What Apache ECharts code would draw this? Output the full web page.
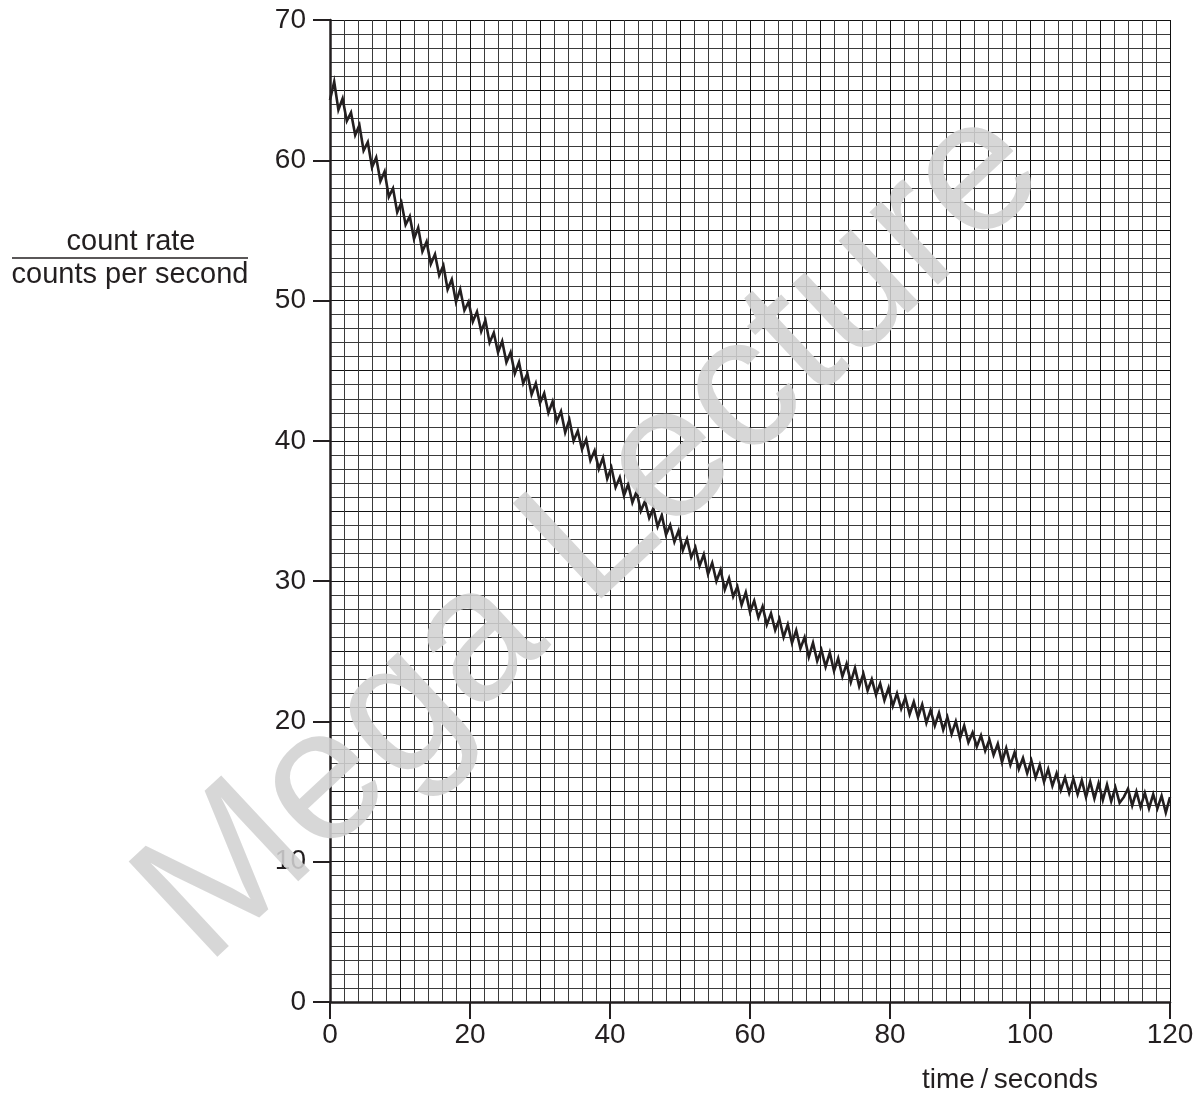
<!DOCTYPE html>
<html>
<head>
<meta charset="utf-8">
<title>count rate</title>
<script src="https://cdn.jsdelivr.net/npm/echarts@6/dist/echarts.min.js"></script>
<style>
  html, body { margin: 0; padding: 0; background: #fff; }
  #chart { width: 1198px; height: 1094px; }
</style>
</head>
<body>
<div id="chart"></div>
<script>
// sample spacing of the trace, seconds
const step = 0.6
// count rate, one value per step from t = 0
const rates = [
  64.3, 65.6, 63.6, 64.4, 62.8, 63.4, 61.8, 62.5, 60.7, 61.3,
  59.5, 60.2, 58.5, 59.2, 57.4, 58.0, 56.3, 57.0, 55.4, 56.0,
  54.4, 55.2, 53.5, 54.2, 52.6, 53.3, 51.8, 52.5, 50.8, 51.5,
  49.9, 50.8, 49.3, 49.9, 48.5, 49.2, 47.8, 48.6, 47.0, 47.7,
  46.3, 47.1, 45.6, 46.3, 44.8, 45.6, 44.1, 44.8, 43.3, 44.1,
  42.7, 43.4, 42.0, 42.8, 41.4, 42.1, 40.6, 41.5, 40.0, 40.7,
  39.4, 40.1, 38.6, 39.3, 38.0, 38.8, 37.3, 38.1, 36.7, 37.4,
  36.1, 36.9, 35.6, 36.4, 35.0, 35.7, 34.5, 35.2, 33.9, 34.7,
  33.3, 34.0, 32.8, 33.6, 32.2, 33.0, 31.7, 32.4, 31.1, 31.9,
  30.5, 31.3, 30.0, 30.8, 29.4, 30.2, 28.9, 29.6, 28.3, 29.2,
  27.8, 28.6, 27.4, 28.2, 26.9, 27.7, 26.5, 27.3, 26.0, 26.9,
  25.6, 26.5, 25.2, 26.0, 24.6, 25.6, 24.3, 25.1, 23.9, 24.9,
  23.6, 24.5, 23.2, 24.1, 22.8, 23.8, 22.5, 23.4, 22.2, 23.0,
  21.9, 22.7, 21.5, 22.4, 21.1, 22.0, 20.9, 21.7, 20.5, 21.4,
  20.3, 21.2, 19.9, 20.8, 19.7, 20.6, 19.4, 20.3, 19.1, 20.0,
  18.8, 19.7, 18.5, 19.2, 18.2, 19.0, 17.9, 18.7, 17.6, 18.4,
  17.1, 18.1, 16.9, 17.8, 16.6, 17.4, 16.3, 17.2, 16.0, 16.9,
  15.7, 16.6, 15.4, 16.3, 15.1, 16.0, 14.9, 15.9, 14.8, 15.8,
  14.6, 15.7, 14.5, 15.6, 14.4, 15.5, 14.3, 15.3, 14.2, 14.6,
  15.2, 14.0, 15.0, 13.9, 14.9, 13.8, 14.8, 13.8, 14.7, 13.5,
  14.6
]
const xTicks = [0, 20, 40, 60, 80, 100, 120]
const yTicks = [0, 10, 20, 30, 40, 50, 60, 70]

const ink = '#231f20'
const font = '"Liberation Sans", Arial, Helvetica, sans-serif'

var dom = document.getElementById('chart')
var myChart = echarts.init(dom, null, { renderer: 'canvas' })

// graph paper: one axis for the grid, one for the ticks and numbers
function paperAxis(max, interval) {
  return {
    type: 'value', min: 0, max: max, interval: interval,
    axisLine: { show: false }, axisTick: { show: false }, axisLabel: { show: false },
    splitLine: { show: true, lineStyle: { color: '#111', width: 1 } },
    minorTick: { show: false, splitNumber: 5 },
    minorSplitLine: { show: true, lineStyle: { color: '#3a3a3a', width: 1 } },
    z: 0
  }
}
function labelAxis(ticks, pos) {
  return {
    type: 'value', position: pos,
    min: ticks[0], max: ticks[ticks.length - 1], interval: ticks[1] - ticks[0],
    axisLine: { show: true, onZero: false, lineStyle: { color: ink, width: 2.5 } },
    axisTick: { show: true, length: 17, lineStyle: { color: ink, width: 2 } },
    axisLabel: { fontSize: 28, color: ink, fontFamily: font, margin: pos === 'bottom' ? 19 : 24 },
    splitLine: { show: false },
    z: 5
  }
}

var option = {
  animation: false,
  backgroundColor: '#fff',
  grid: { left: 330, right: 28, top: 20, bottom: 92, containLabel: false },
  xAxis: [paperAxis(120, 10), labelAxis(xTicks, 'bottom')],
  yAxis: [paperAxis(70, 5), labelAxis(yTicks, 'left')],
  series: [{
    type: 'line',
    xAxisIndex: 1,
    yAxisIndex: 1,
    data: rates.map((v, i) => [+(i * step).toFixed(1), v]),
    showSymbol: false,
    symbol: 'none',
    lineStyle: { color: ink, width: 2.6, join: 'miter' },
    z: 4
  }],
  graphic: [
    { type: 'text', x: 131, y: 242, z: 10,
      style: { text: 'count rate', fontSize: 29, fontFamily: font, fill: ink, align: 'center', verticalAlign: 'middle' } },
    { type: 'line', z: 10, shape: { x1: 12, y1: 258, x2: 248, y2: 258 }, style: { stroke: ink, lineWidth: 1.5 } },
    { type: 'text', x: 130, y: 275, z: 10,
      style: { text: 'counts per second', fontSize: 29, fontFamily: font, fill: ink, align: 'center', verticalAlign: 'middle' } },
    { type: 'text', x: 1010, y: 1080, z: 10,
      style: { text: 'time\u2009/\u2009seconds', fontSize: 28, fontFamily: font, fill: ink, align: 'center', verticalAlign: 'middle' } },
    // watermark
    { type: 'text', x: 593, y: 535, rotation: 43 * Math.PI / 180, z: 20,
      style: { text: 'Mega Lecture', fontSize: 189, fontFamily: font, fill: 'rgba(210,210,210,0.88)', align: 'center', verticalAlign: 'middle' } }
  ]
}
myChart.setOption(option)
</script>
</body>
</html>
